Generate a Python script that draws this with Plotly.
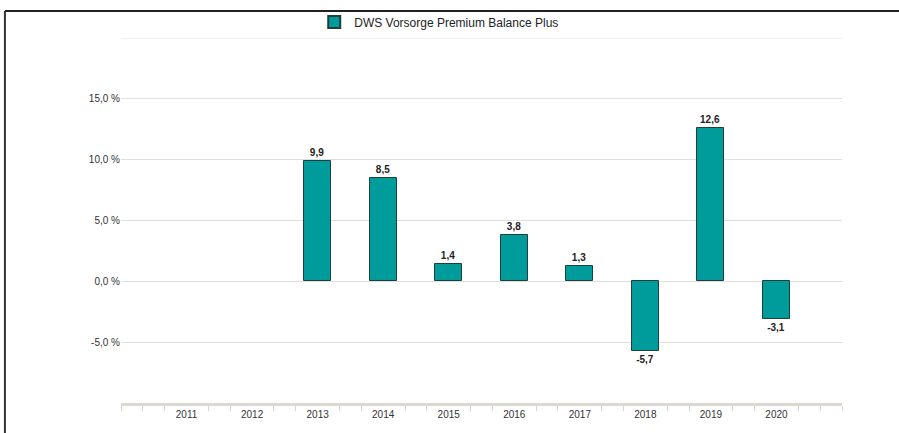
import plotly.graph_objects as go

years = [2011, 2012, 2013, 2014, 2015, 2016, 2017, 2018, 2019, 2020]
returns = [None, None, 9.9, 8.5, 1.4, 3.8, 1.3, -5.7, 12.6, -3.1]
series_name = "DWS Vorsorge Premium Balance Plus"
y_ticks = [-10, -5, 0, 5, 10, 15, 20]
y_labels = ["", "-5,0 %", "0,0 %", "5,0 %", "10,0 %", "15,0 %", ""]

labels = ["" if v is None else f"{v:.1f}".replace(".", ",") for v in returns]

fig = go.Figure()
fig.add_trace(go.Bar(
    x=years, y=returns, name=series_name,
    width=0.41,
    marker=dict(color="#009c9c", line=dict(color="#1f3f3f", width=1)),
    text=labels, textposition="outside", cliponaxis=False,
    textfont=dict(family="Arial, Liberation Sans, sans-serif", size=10, color="#222222", weight="bold"),
    showlegend=True,
))

minor_vals = []
for y in range(2010, 2021):
    minor_vals += [y, y + 1/3, y + 2/3]
minor_vals.append(2021)
minor_vals = [v for v in minor_vals if not (2011 <= v <= 2020 and abs(v - round(v)) < 1e-9)]

fig.update_layout(
    width=899, height=433,
    margin=dict(l=121, r=57, t=38, b=30, autoexpand=False),
    paper_bgcolor="white", plot_bgcolor="white",
    font=dict(family="Arial, Liberation Sans, sans-serif", size=10, color="#333333"),
    bargap=0,
    legend=dict(orientation="h", x=0.268, y=1.044, xanchor="left", yanchor="middle",
                font=dict(size=12, color="#222222"), bgcolor="rgba(0,0,0,0)",
                itemsizing="constant"),
    xaxis=dict(
        range=[2010, 2021], tickvals=years, ticktext=[str(y) for y in years],
        ticks="", showgrid=False, zeroline=False,
        showline=True, linecolor="#ddd8d0", linewidth=3,
        tickfont=dict(size=10, color="#333333"),
        minor=dict(tickmode="array", tickvals=minor_vals, ticks="outside",
                   ticklen=5, tickwidth=1, tickcolor="#d8d4cc", showgrid=False),
    ),
    yaxis=dict(
        range=[-10, 20], tickvals=y_ticks, ticktext=y_labels,
        showgrid=True, gridcolor="#e2dfda", gridwidth=1,
        zeroline=False, showline=False, ticks="",
        tickfont=dict(size=10, color="#333333"),
    ),
    shapes=[
        dict(type="line", xref="paper", yref="y", x0=0, x1=1, y0=20, y1=20,
             line=dict(color="#e2dfda", width=1), layer="below"),
        dict(type="line", xref="paper", yref="paper", x0=-0.161, x1=1.1, y0=1.074, y1=1.074,
             line=dict(color="#222222", width=2)),
        dict(type="line", xref="paper", yref="paper", x0=-0.161, x1=-0.161, y0=1.074, y1=-0.1,
             line=dict(color="#333333", width=2)),
    ],
)

fig.write_html("out.html", post_script="document.body.style.margin='0';",
               config={"displayModeBar": False})
